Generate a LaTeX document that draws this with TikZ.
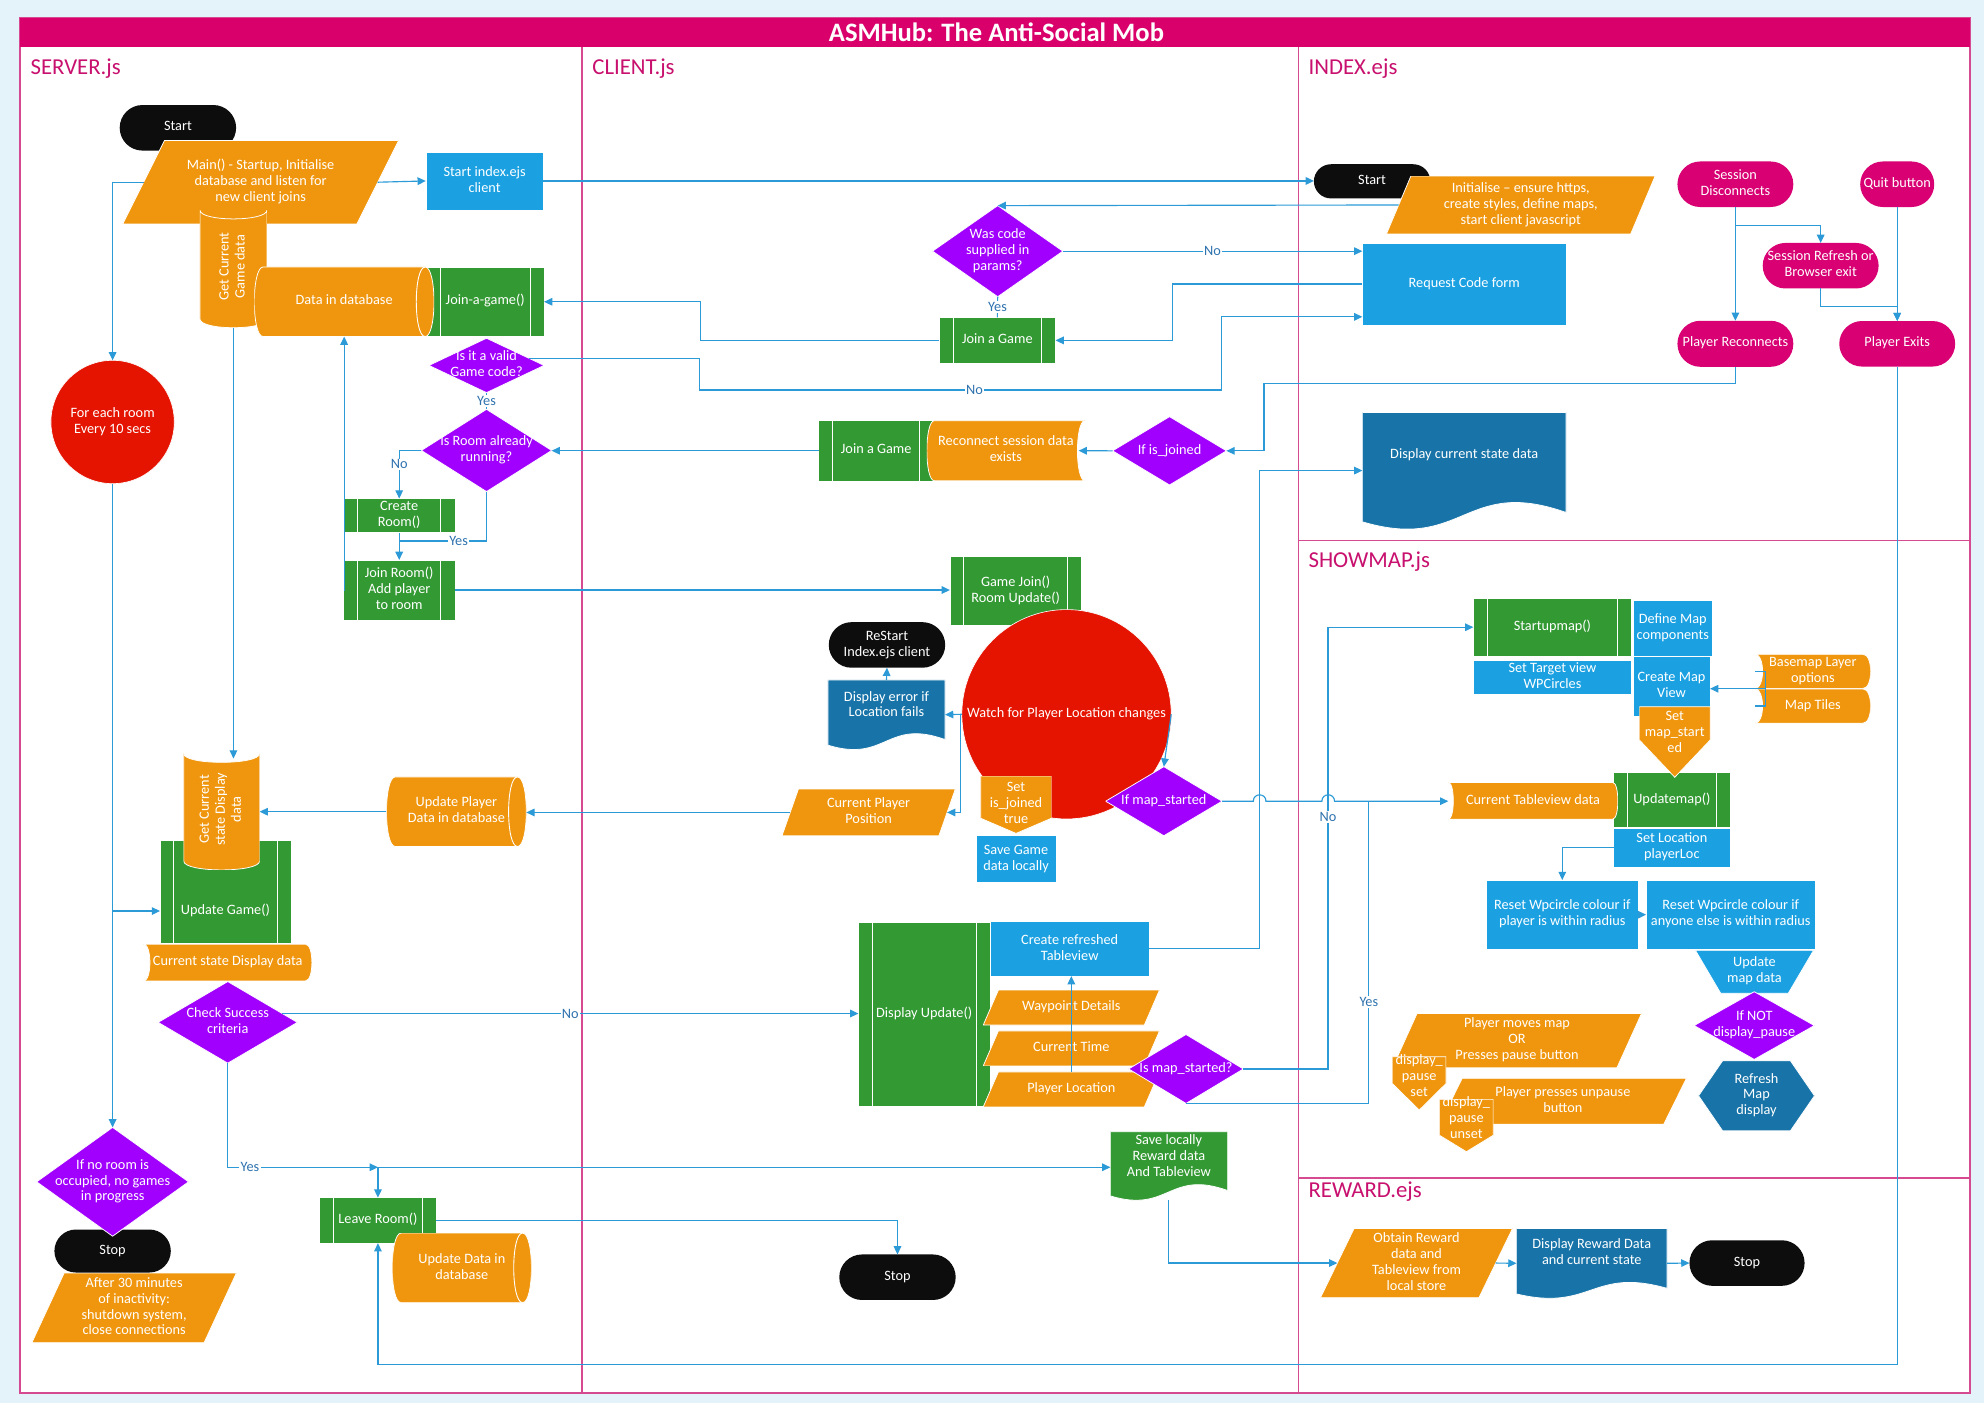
\documentclass[tikz,border=0pt]{standalone}
\usepackage{fontspec}
\setmainfont{Carlito}
\usepackage{graphicx}
\usetikzlibrary{shapes.misc,arrows.meta,calc}
\definecolor{cbg}{HTML}{E4F2FA}
\definecolor{cframe}{HTML}{D54A90}
\definecolor{ctitle}{HTML}{D9006C}
\definecolor{clane}{HTML}{C8106E}
\definecolor{corange}{HTML}{F0960E}
\definecolor{cgreen}{HTML}{339933}
\definecolor{clblue}{HTML}{1BA1E2}
\definecolor{cdblue}{HTML}{1874A8}
\definecolor{cpurple}{HTML}{A100FF}
\definecolor{cred}{HTML}{E51400}
\definecolor{cmag}{HTML}{D80073}
\definecolor{cblack}{HTML}{0D0D0D}
\definecolor{cline}{HTML}{2B9AD6}
\definecolor{clbl}{HTML}{2E72AE}
\newcommand\fnt{\fontsize{11.3}{12.6}\selectfont}
\newcommand\mytx[1]{\makebox[0pt]{\begin{tabular}{@{}c@{}}#1\end{tabular}}}
\def\bb{path picture bounding box}
\tikzset{
 shp/.style={rectangle, inner sep=0pt, outer sep=0pt, text=white, font=\fnt},
 sz/.style 2 args={minimum width=#1, minimum height=#2},
 ghost/.style={draw=white, draw opacity=0},
 ol/.style={draw=white, draw opacity=1, line width=.6pt},
 tup/.style={text height=0pt, text depth=#1},
 tdown/.style={text height=#1, text depth=0pt},
 term/.style={shp, rounded rectangle, fill=#1},
 rect/.style={shp, fill=#1, draw=white, line width=.4pt},
 circ/.style={shp, circle, fill=cred, draw=white, line width=.5pt, minimum size=#1},
 pp/.style={shp, fill=cgreen, draw=white, line width=.4pt,
   path picture={\draw[white, line width=.8pt] ([xshift=11pt]\bb.north west) -- ([xshift=11pt]\bb.south west) ([xshift=-11pt]\bb.north east) -- ([xshift=-11pt]\bb.south east);}},
 dia/.style={shp, ghost,
   path picture={\filldraw[fill=cpurple, ol] (\bb.north) -- (\bb.east) -- (\bb.south) -- (\bb.west) -- cycle;}},
 para/.style 2 args={shp, ghost,
   path picture={\filldraw[fill=#1, ol] ([xshift=#2pt]\bb.north west) -- (\bb.north east) -- ([xshift=-#2pt]\bb.south east) -- (\bb.south west) -- cycle;}},
 cyl/.style={shp, ghost,
   path picture={\filldraw[fill=corange, ol] ([xshift=7pt]\bb.north west) -- ([xshift=-7pt]\bb.north east) .. controls ([xshift=2.33pt]\bb.north east) and ([xshift=2.33pt]\bb.south east) .. ([xshift=-7pt]\bb.south east) -- ([xshift=7pt]\bb.south west) .. controls ([xshift=-2.33pt]\bb.south west) and ([xshift=-2.33pt]\bb.north west) .. cycle;
   \draw[white, draw opacity=1, line width=.7pt] ([xshift=-7pt]\bb.north east) .. controls ([xshift=-16.33pt]\bb.north east) and ([xshift=-16.33pt]\bb.south east) .. ([xshift=-7pt]\bb.south east);}},
 sdata/.style 2 args={shp, ghost,
   path picture={\filldraw[fill=#1, ol] ([xshift=#2pt]\bb.north west) -- (\bb.north east) .. controls ([xshift=-1.333*#2pt]\bb.north east) and ([xshift=-1.333*#2pt]\bb.south east) .. (\bb.south east) -- ([xshift=#2pt]\bb.south west) .. controls ([xshift=-0.333*#2pt]\bb.south west) and ([xshift=-0.333*#2pt]\bb.north west) .. cycle;}},
 sdatar/.style 2 args={shp, ghost,
   path picture={\filldraw[fill=#1, ol] (\bb.north west) -- ([xshift=-#2pt]\bb.north east) .. controls ([xshift=0.333*#2pt]\bb.north east) and ([xshift=0.333*#2pt]\bb.south east) .. ([xshift=-#2pt]\bb.south east) -- (\bb.south west) .. controls ([xshift=1.333*#2pt]\bb.south west) and ([xshift=1.333*#2pt]\bb.north west) .. cycle;}},
 vtape/.style={shp, ghost,
   path picture={\filldraw[fill=corange, ol] (\bb.north west) .. controls ([yshift=-9.33pt]\bb.north west) and ([yshift=-9.33pt]\bb.north east) .. (\bb.north east) -- ([yshift=7pt]\bb.south east) .. controls ([yshift=-2.33pt]\bb.south east) and ([yshift=-2.33pt]\bb.south west) .. ([yshift=7pt]\bb.south west) -- cycle;}},
 doc/.style={shp, ghost,
   path picture={\filldraw[fill=#1, ol] let \p1=(\bb.south west), \p2=(\bb.north east) in (\x1,\y2) -- (\x2,\y2) -- (\x2,{\y1+0.14*(\y2-\y1)}) .. controls ({0.5*(\x1+\x2)},{\y1+0.45*(\y2-\y1)}) and ({0.5*(\x1+\x2)},{\y1-0.2*(\y2-\y1)}) .. (\x1,{\y1+0.06*(\y2-\y1)}) -- cycle;}},
 trap/.style={shp, ghost,
   path picture={\filldraw[fill=clblue, ol] (\bb.north west) -- (\bb.north east) -- ([xshift=-20pt]\bb.south east) -- ([xshift=20pt]\bb.south west) -- cycle;}},
 hexa/.style={shp, ghost,
   path picture={\filldraw[fill=cdblue, ol] ([xshift=19pt]\bb.north west) -- ([xshift=-19pt]\bb.north east) -- (\bb.east) -- ([xshift=-19pt]\bb.south east) -- ([xshift=19pt]\bb.south west) -- (\bb.west) -- cycle;}},
 offp/.style={shp, ghost,
   path picture={\filldraw[fill=corange, ol] (\bb.north west) -- (\bb.north east) -- ([yshift=#1pt]\bb.south east) -- (\bb.south) -- ([yshift=#1pt]\bb.south west) -- cycle;}},
 conn/.style={draw=cline, line width=.9pt},
 arr/.style={conn, -{Triangle[length=6.5pt, width=6pt]}},
 lbl/.style={fill=white, inner sep=1pt, text=clbl, font=\fnt},
 lanel/.style={anchor=west, text=clane, font=\fontsize{18}{20}\selectfont, inner sep=0pt},
}
\begin{document}
\begin{tikzpicture}[x=1pt,y=-1pt]
\useasboundingbox (0,0) rectangle (1568,1109);
\fill[cbg] (0,0) rectangle (1568,1109);
\filldraw[fill=white, draw=cframe, line width=1.3pt] (16,14) rectangle (1557,1101);
\fill[ctitle] (16,14) rectangle (1557,37);
\node[font=\fontsize{21}{24}\selectfont\bfseries, text=white, inner sep=0pt] (title) at (787.5,25.5) {ASMHub: The Anti-Social Mob};
\draw[cframe, line width=1.1pt] (460,37) -- (460,1101) (1026,37) -- (1026,1101) (1026,427) -- (1557,427) (1026,931) -- (1557,931);
\node[lanel] (lserver) at (24,54) {SERVER.js};
\node[lanel] (lclient) at (468,54) {CLIENT.js};
\node[lanel] (lindex) at (1034,54) {INDEX.ejs};
\node[lanel] (lshowmap) at (1034,444) {SHOWMAP.js};
\node[lanel] (lreward) at (1034,942) {REWARD.ejs};

% ---------------- SERVER ----------------
\node[term=cblack, sz={92}{36}] (s_start) at (140.6,101) {\mytx{Start}};
\node[para={corange}{33}, sz={218}{66}] (s_main) at (206,144) {\mytx{Main() - Startup, Initialise\\database and listen for\\new client joins}};
\node[rect=clblue, sz={93}{46}] (s_startidx) at (383,143) {\mytx{Start index.ejs\\client}};
\node[vtape, sz={53}{93}] (s_getgd) at (184.5,212.5) {\mytx{\rotatebox{90}{\begin{tabular}{@{}c@{}}Get Current\\Game data\end{tabular}}}};
\node[pp, sz={93}{55}] (s_join) at (383.5,238.5) {\mytx{Join-a-game()}};
\node[cyl, sz={142}{55}] (s_db) at (272,238.5) {\mytx{Data in database}};
\node[dia, sz={91}{43}] (s_valid) at (384.5,288.8) {\mytx{Is it a valid\\Game code?}};
\node[dia, sz={103}{65}] (s_room) at (384.5,356) {\mytx{Is Room already\\running?}};
\node[circ=97.5] (s_circle) at (89,333.5) {\mytx{For each room\\Every 10 secs}};
\node[pp, sz={88}{27}] (s_create) at (315.5,407.5) {\mytx{Create\\Room()}};
\node[pp, sz={88}{47.5}] (s_joinroom) at (315.5,466.3) {\mytx{Join Room()\\Add player\\to room}};
\coordinate (yj) at (315.5,427.6);
\node[pp, sz={103.5}{81}, tdown=36.1pt] (s_update) at (178.2,704.7) {\mytx{Update Game()}};
\node[vtape, sz={60}{92}] (s_getcs) at (175.2,641.5) {\mytx{\rotatebox{90}{\begin{tabular}{@{}c@{}}Get Current\\state Display\\data\end{tabular}}}};
\node[cyl, sz={110.5}{55}] (s_updplayer) at (360.7,641.5) {\mytx{Update Player\\Data in database}};
\node[sdatar={corange}{5}, sz={133}{29}] (s_cur) at (180,760.7) {\mytx{Current state Display data}};
\node[dia, sz={110}{64.5}] (s_check) at (180,808) {\mytx{Check Success\\criteria}};
\node[term=cblack, sz={92}{34}] (s_stop1) at (89,988.7) {\mytx{Stop}};
\node[dia, sz={120}{86}] (s_noroom) at (89,934) {\mytx{If no room is\\occupied, no games\\in progress}};
\node[para={corange}{25.5}, sz={161.6}{55}] (s_after) at (106,1033.6) {\mytx{After 30 minutes\\of inactivity:\\shutdown system,\\close connections}};
\node[pp, sz={92}{36}] (s_leave) at (298.7,964.5) {\mytx{Leave Room()}};
\node[cyl, sz={110}{55}] (s_upddb) at (365,1002) {\mytx{Update Data in\\database}};

% ---------------- CLIENT ----------------
\node[dia, sz={103}{72}] (c_wascode) at (788.5,198.5) {\mytx{Was code\\supplied in\\params?}};
\node[pp, sz={92}{36.4}] (c_join1) at (788.2,269) {\mytx{Join a Game}};
\node[pp, sz={91}{47.5}] (c_join2) at (692.5,356.2) {\mytx{Join a Game}};
\node[sdata={corange}{6}, sz={125}{47.5}] (c_reconnect) at (795,356.2) {\mytx{Reconnect session data\\exists}};
\node[dia, sz={90}{54}] (c_isjoined) at (924.3,356.3) {\mytx{If is\_joined}};
\node[pp, sz={104}{55}] (c_gamejoin) at (802.7,467) {\mytx{Game Join()\\Room Update()}};
\node[circ=165.5] (c_watch) at (842.9,564.5) {\mytx{Watch for Player Location changes}};
\node[term=cblack, sz={92}{36}] (c_restart) at (701,509.7) {\mytx{ReStart\\Index.ejs client}};
\node[doc=cdblue, sz={92.6}{54.8}, tup=8.5pt] (c_disperr) at (700.6,564.8) {\mytx{Display error if\\Location fails}};
\node[para={corange}{13}, sz={137}{37}] (c_curpos) at (686.5,642.1) {\mytx{Current Player\\Position}};
\node[offp=12, sz={56}{45.3}] (c_setjoined) at (803,636) {\mytx{Set\\is\_joined\\true}};
\node[rect=clblue, sz={63.5}{37.6}] (c_savegame) at (803,678.8) {\mytx{Save Game\\data locally}};
\node[dia, sz={92}{54.6}] (c_ifmap) at (919.8,633.2) {\mytx{If map\_started}};
\node[pp, sz={104}{146}] (c_dispupd) at (730.4,801.5) {\mytx{Display Update()}};
\node[rect=clblue, sz={126}{43}] (c_refresh) at (845.4,749.9) {\mytx{Create refreshed\\Tableview}};
\node[para={corange}{12}, sz={139.3}{27.7}] (c_wp) at (846.7,796.3) {\mytx{Waypoint Details}};
\node[para={corange}{12}, sz={139.3}{27.7}] (c_time) at (846.7,828.6) {\mytx{Current Time}};
\node[para={corange}{12}, sz={139.3}{27.7}] (c_ploc) at (846.7,861) {\mytx{Player Location}};
\node[dia, sz={90.7}{54.5}] (c_ismap) at (937.3,844.8) {\mytx{Is map\_started?}};
\node[doc=cgreen, sz={92.5}{54}, tup=8.5pt] (c_savereward) at (923.8,921.4) {\mytx{Save locally\\Reward data\\And Tableview}};
\node[term=cblack, sz={92}{36}] (c_stop) at (709.3,1009.4) {\mytx{Stop}};

% ---------------- INDEX ----------------
\node[term=cblack, sz={92}{27}] (i_start) at (1084.4,143.3) {\mytx{Start}};
\node[para={corange}{19.3}, sz={212.3}{45.8}] (i_init) at (1201.9,162) {\mytx{Initialise – ensure https,\\create styles, define maps,\\start client javascript}};
\node[rect=clblue, sz={161}{65}] (i_req) at (1157.2,224.4) {\mytx{Request Code form}};
\node[term=cmag, sz={91.6}{36}] (i_sdis) at (1371.5,145.6) {\mytx{Session\\Disconnects}};
\node[term=cmag, sz={58.5}{36}] (i_quit) at (1499.4,145.6) {\mytx{Quit button}};
\node[term=cmag, sz={91.6}{36}] (i_sref) at (1438.9,210) {\mytx{Session Refresh or\\Browser exit}};
\node[term=cmag, sz={91.6}{36.4}] (i_prec) at (1371.5,271.7) {\mytx{Player Reconnects}};
\node[term=cmag, sz={91.6}{36}] (i_pexit) at (1499.4,271.7) {\mytx{Player Exits}};
\node[doc=cdblue, sz={161}{92}, tup=18.5pt] (i_disp) at (1157.2,371.9) {\mytx{Display current state data}};

% ---------------- SHOWMAP ----------------
\node[pp, sz={125}{45.6}] (m_startup) at (1226.9,495.7) {\mytx{Startupmap()}};
\node[rect=clblue, sz={63}{44}] (m_define) at (1322,496.4) {\mytx{Define Map\\components}};
\node[rect=clblue, sz={125}{27}] (m_target) at (1226.9,535) {\mytx{Set Target view\\WPCircles}};
\node[rect=clblue, sz={61}{47.4}] (m_create) at (1321,542.7) {\mytx{Create Map\\View}};
\node[pp, sz={92}{43.5}] (m_update) at (1321.3,632.1) {\mytx{Updatemap()}};
\node[offp=29.5, sz={56}{55.8}, tup=8.5pt] (m_setmap) at (1323.6,586.4) {\mytx{Set\\map\_start\\ed}};
\node[sdatar={corange}{6}, sz={91.4}{27}] (m_base) at (1432.7,530.6) {\mytx{Basemap Layer\\options}};
\node[sdatar={corange}{6}, sz={91.4}{27}] (m_tiles) at (1432.7,558) {\mytx{Map Tiles}};
\node[sdatar={corange}{4}, sz={134}{29}] (m_curtab) at (1211.6,632.9) {\mytx{Current Tableview data}};
\node[rect=clblue, sz={92}{31}] (m_setloc) at (1321.3,670) {\mytx{Set Location\\playerLoc}};
\node[rect=clblue, sz={119.6}{54.8}] (m_reset1) at (1234.7,722.9) {\mytx{Reset Wpcircle colour if\\player is within radius}};
\node[rect=clblue, sz={133.7}{54.8}] (m_reset2) at (1367.8,722.9) {\mytx{Reset Wpcircle colour if\\anyone else is within radius}};
\node[trap, sz={93.4}{34}] (m_updmap) at (1386.6,768) {\mytx{Update\\map data}};
\node[dia, sz={95}{53.5}] (m_ifnot) at (1386.4,810.5) {\mytx{If NOT\\display\_pause}};
\node[hexa, sz={91.6}{55.3}] (m_refresh) at (1388.2,866) {\mytx{Refresh\\Map\\display}};
\node[para={corange}{19.5}, sz={196.9}{43}] (m_pmoves) at (1198.9,822.4) {\mytx{Player moves map\\OR\\Presses pause button}};
\node[offp=21, sz={42.5}{42.2}, tup=3.9pt] (m_pset) at (1121.6,856.2) {\mytx{display\_\\pause\\set}};
\node[para={corange}{18}, sz={195.2}{36.4}] (m_punpause) at (1235.2,870.4) {\mytx{Player presses unpause\\button}};
\node[offp=13, sz={42.6}{41.4}, tup=4.7pt] (m_punset) at (1158.9,889.5) {\mytx{display\_\\pause\\unset}};

% ---------------- REWARD ----------------
\node[para={corange}{26.6}, sz={151.8}{54.8}] (r_obtain) at (1119.5,998.2) {\mytx{Obtain Reward\\data and\\Tableview from\\local store}};
\node[doc=cdblue, sz={119}{55}, tup=9.7pt] (r_disp) at (1258,998.4) {\mytx{Display Reward Data\\and current state}};
\node[term=cblack, sz={91}{36}] (r_stop) at (1380.7,998.2) {\mytx{Stop}};

% ---------------- connectors ----------------
\draw[arr] ([xshift=16.5pt]s_main.west) -| (s_circle.north);
\draw[arr] ([xshift=-16.5pt]s_main.east) -- (s_startidx.west);
\draw[arr] (s_startidx.east) -- (s_startidx.east -| i_start.west);
\draw[arr] ([xshift=9.65pt]i_init.west) -- (c_wascode.north);
\draw[arr] (c_wascode.east) -- (c_wascode.east -| i_req.west) node[lbl,pos=.5] (l_no1) {No};
\draw[conn] (c_wascode.south) -- (c_join1.north) node[lbl,midway] (l_yes1) {Yes};
\draw[arr] (c_join1.west) -- ++(-188.6,0) |- (s_join.east);
\draw[arr] (i_req.west) -- ++(-150,0) |- (c_join1.east);
\coordinate (vno) at ([xshift=-11.9pt,yshift=5.6pt]s_valid.east);
\draw[arr] (vno) -- ++(134.6,0) -- ++(0,25) -- ++(412.5,0) node[lbl,pos=.527] (l_no2) {No} |- ([yshift=-26pt]i_req.west);
\draw[conn] (s_valid.south) -- (s_room.north) node[lbl,midway] (l_yes2) {Yes};
\draw[arr] (s_room.west) -| (s_create.north) node[lbl,pos=.645] (l_no3) {No};
\draw[arr] (s_create.south) -- (s_joinroom.north);
\draw[conn] (s_room.south) |- (yj) node[lbl,pos=.66] (l_yes3) {Yes};
\draw[arr] (s_joinroom.west) -| (s_db.south);
\draw[arr] (s_joinroom.east) -- (s_joinroom.east -| c_gamejoin.west);
\draw[arr] (c_join2.west) -- (c_join2.west -| s_room.east);
\draw[arr] (c_isjoined.west) -- ([xshift=-5pt]c_reconnect.east);
\draw[arr] (i_prec.south) -- ++(0,13.4) -| ([xshift=29.7pt]c_isjoined.east) -- (c_isjoined.east);
\draw[arr] (i_sdis.south) -- (i_prec.north);
\draw[arr] ([yshift=-14.8pt]i_sdis.south) -| (i_sref.north);
\draw[arr] (i_sref.south) -- ++(0,14.2) -| (i_pexit.north);
\draw[arr] (i_quit.south) -- (i_pexit.north);
\draw[arr] (i_pexit.south) |- ([yshift=-95.8pt]s_leave.south) -- (s_leave.south);
\draw[arr] (c_refresh.east) -- ++(87.1,0) |- (i_disp.west);
\draw[arr] (c_watch.west) -- (c_disperr.east);
\draw[arr] ([xshift=-1pt]c_watch.west) |- ([xshift=-6.5pt]c_curpos.east);
\draw[arr] (c_disperr.north) -- (c_restart.south);
\draw[arr] ([xshift=6.5pt]c_curpos.west) -- (c_curpos.west -| s_updplayer.east);
\draw[arr] (s_updplayer.west) -- (s_updplayer.west -| s_getcs.east);
\coordinate (gcin) at (s_getgd.south |- s_getcs.north);
\draw[arr] (s_getgd.south) -- ([yshift=-4pt]gcin);
\coordinate (uin) at ([yshift=-15.3pt]s_update.west);
\draw[arr] (s_circle.south) -- (s_noroom.north);
\draw[arr] (uin -| s_circle.south) -- (uin);
\coordinate (chk) at ([xshift=-12pt,yshift=7pt]s_check.east);
\draw[arr] (chk) -- (chk -| c_dispupd.west) node[lbl,pos=.5] (l_no4) {No};
\coordinate (jn) at ([yshift=24pt]s_leave.north);
\draw[arr] (s_check.south) |- (jn) node[lbl,pos=.574] (l_yes4) {Yes};
\draw[arr] (jn) -- (s_leave.north);
\draw[arr] (jn) -- (jn -| c_savereward.west);
\draw[arr] (s_leave.east) -| (c_stop.north);
\draw[arr] (c_savereward.south) |- ([xshift=13.3pt]r_obtain.west);
\draw[arr] ([xshift=-13.3pt]r_obtain.east) -- (r_disp.west);
\draw[arr] (r_disp.east) -- (r_stop.west);
\draw[arr] (c_ploc.north) -- (c_ploc.north |- c_refresh.south);
\draw[arr] (c_watch.east) -- (c_ifmap.north);
\draw[arr] (c_ifmap.east) -- ++(24.7,0) .. controls +(0,-6.7) and +(0,-6.7) .. ++(10,0) -- ++(44.2,0) .. controls +(0,-6.7) and +(0,-6.7) .. ++(10,0) -- (c_ifmap.east -| m_curtab.west);
\draw[arr] (c_ismap.east) -- ++(66.9,0) |- (m_startup.west) node[lbl,pos=.285] (l_no5) {No};
\coordinate (yjun) at ([xshift=-62.8pt]m_curtab.west);
\draw[conn] (c_ismap.south) -| (yjun) node[lbl,pos=.667] (l_yes5) {Yes};
\draw[arr] (m_setloc.west) -| (m_reset1.north);
\draw[arr] (m_reset1.east) -- (m_reset2.west);
\draw[conn] (m_base.west) -- ++(8,0) |- (m_tiles.west);
\coordinate (brk) at ($(m_base.west)!.5!(m_tiles.west)+(8,0)$);
\draw[arr] (brk) -- (brk -| m_create.east);
\end{tikzpicture}
\end{document}
